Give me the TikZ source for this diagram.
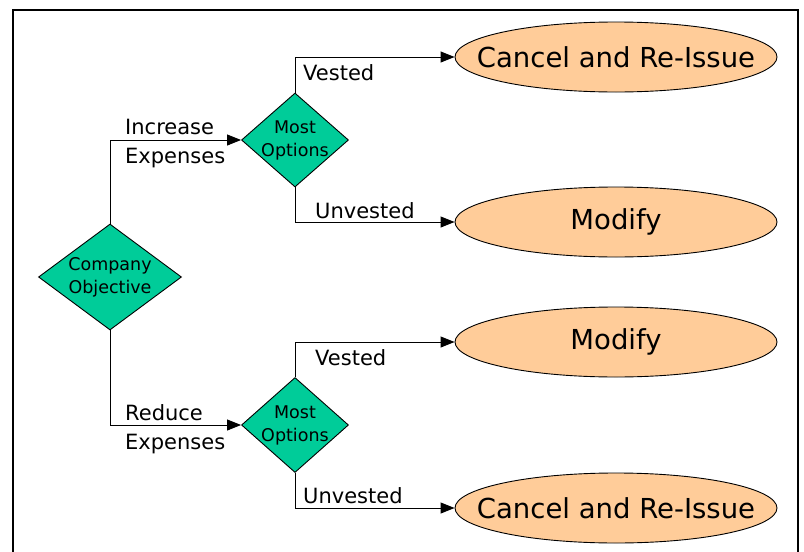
\documentclass[tikz,border=0pt]{standalone}
\usepackage{fontspec}
\setmainfont{DejaVu Sans}
\usetikzlibrary{shapes.geometric,arrows.meta}
\definecolor{dgreen}{HTML}{00CC99}
\definecolor{porange}{HTML}{FFCC99}
\tikzset{
  decision/.style={diamond, draw=black, line width=0.9pt, fill=dgreen, inner sep=0pt},
  dtext/.style={align=center, inner sep=0pt, font=\fontsize{17.5}{23}\selectfont},
  outcome/.style={ellipse, draw=black, line width=0.9pt, fill=porange, inner sep=0pt,
    minimum width=322pt, minimum height=70pt, font=\fontsize{27.5}{33}\selectfont},
  conn/.style={line width=1pt, -{Triangle[length=14pt,width=11pt]}},
  lbl/.style={anchor=west, inner sep=0pt, align=left, font=\fontsize{21}{29}\selectfont},
  frame/.style={line width=2pt}
}
\begin{document}
\begin{tikzpicture}[x=1pt,y=-1pt]
\useasboundingbox (0,0) rectangle (804,552);
\draw[frame] (13,552) -- (13,10) -- (798,10) -- (798,552);

\node[decision, minimum width=143pt, minimum height=106pt,
  label={[dtext]center:Company\\Objective}] (co) at (110,277) {};
\node[decision, minimum width=107pt, minimum height=94pt,
  label={[dtext]center:Most\\Options}] (mo1) at (295,140) {};
\node[decision, minimum width=107pt, minimum height=95pt,
  label={[dtext]center:Most\\Options}] (mo2) at (295,425) {};

\node[outcome] (e1) at (616,57) {\makebox[0pt]{Cancel and Re-Issue}};
\node[outcome] (e2) at (616,222) {\makebox[0pt]{Modify}};
\node[outcome] (e3) at (616,342) {\makebox[0pt]{Modify}};
\node[outcome] (e4) at (616,508) {\makebox[0pt]{Cancel and Re-Issue}};

\draw[conn] (co.north) |- (mo1.west);
\draw[conn] (co.south) |- (mo2.west);
\draw[conn] (mo1.north) |- (e1.west);
\draw[conn] (mo1.south) |- (e2.west);
\draw[conn] (mo2.north) |- (e3.west);
\draw[conn] (mo2.south) |- (e4.west);

\node[lbl] (l1) at (125,144) {Increase\\Expenses};
\node[lbl] (l2) at (125,429) {Reduce\\Expenses};
\node[lbl] (v1) at (303,73) {Vested};
\node[lbl] (u1) at (315,211) {Unvested};
\node[lbl] (v2) at (315,358) {Vested};
\node[lbl] (u2) at (303,496) {Unvested};
\end{tikzpicture}
\end{document}
